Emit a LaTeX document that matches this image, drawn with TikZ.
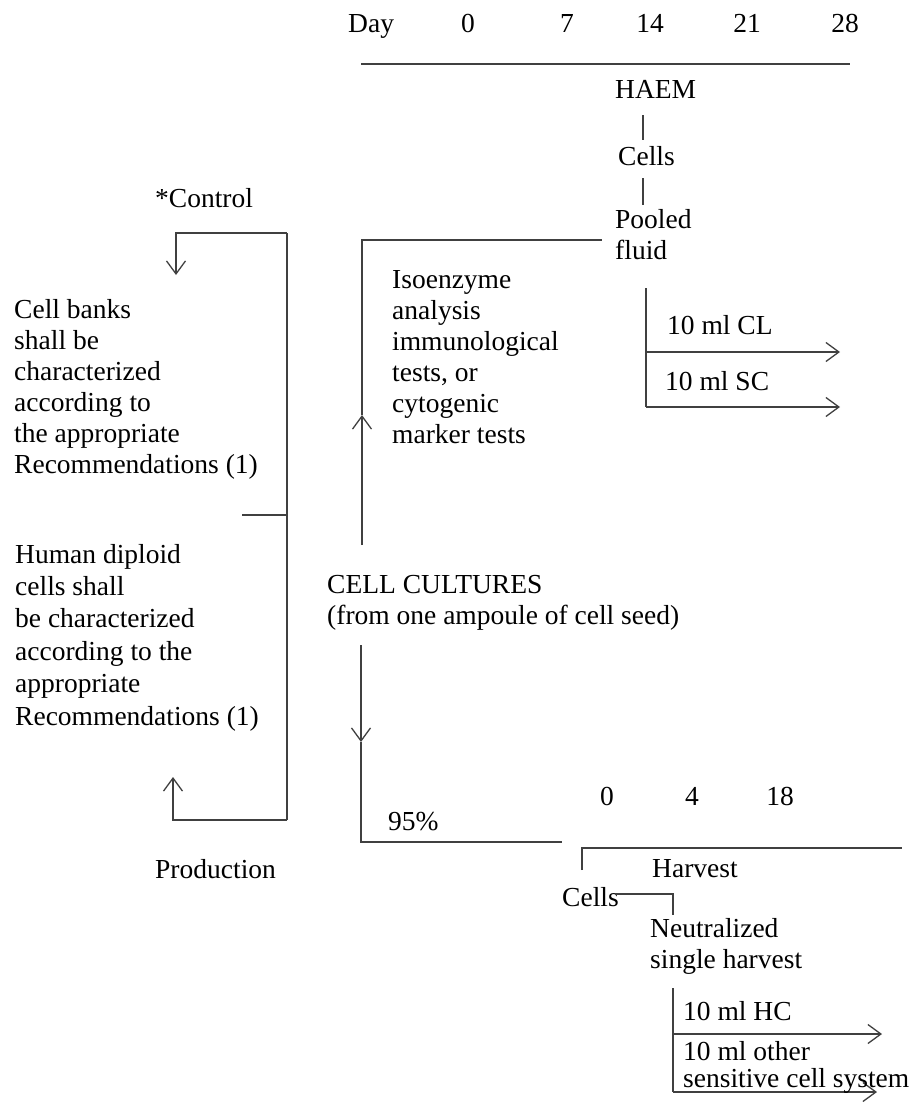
\documentclass[tikz,border=0pt]{standalone}
\usepackage{fontspec}
\setmainfont{Liberation Serif}
\usetikzlibrary{arrows.meta}
\begin{document}
\begin{tikzpicture}[x=1pt,y=-1pt,
  txt/.style={inner sep=0pt, anchor=base west, align=left, font=\fontsize{27.5}{31}\selectfont},
  txtb/.style={txt, font=\fontsize{27.5}{32.4}\selectfont},
  txtc/.style={txt, font=\fontsize{27.5}{27}\selectfont},
  num/.style={inner sep=0pt, anchor=base, font=\fontsize{27.5}{31}\selectfont},
  ln/.style={draw=black!75, line width=1.3pt},
  arr/.style={ln, -{Straight Barb[length=13pt,width=19pt,line width=1.3pt]}}
]
\useasboundingbox (0,0) rectangle (919,1106);
% note: a multi-line node's base anchor lies on its last line

% ---- top time scale ----
\node[txt] (day) at (348,32) {Day};
\node[num] (d0) at (468,32) {0};
\node[num] (d7) at (567,32) {7};
\node[num] (d14) at (650,32) {14};
\node[num] (d21) at (747,32) {21};
\node[num] (d28) at (845,32) {28};
\coordinate (tl1) at (361,64);
\coordinate (tl2) at (850,64);
\draw[ln] (tl1) -- (tl2);

% ---- HAEM column ----
\node[txt] (haem) at (615,98) {HAEM};
\node[txt] (cellsA) at (618,165) {Cells};
\node[txt] (pooled) at (615,259) {Pooled\\fluid};
\coordinate (b1a) at (643,115);
\coordinate (b1b) at (643,140);
\coordinate (b2a) at (643,178);
\coordinate (b2b) at (643,205);
\draw[ln] (b1a) -- (b1b);
\draw[ln] (b2a) -- (b2b);

% ---- pooled fluid tests ----
\coordinate (pv1) at (646,288);
\coordinate (pv2) at (646,407);
\coordinate (pa1) at (646,352);
\coordinate (pa1e) at (840,352);
\coordinate (pa2e) at (840,407);
\draw[ln] (pv1) -- (pv2);
\draw[arr] (pa1) -- (pa1e);
\draw[arr] (pv2) -- (pa2e);
\node[txt] (cl) at (667,334) {10 ml CL};
\node[txt] (sc) at (665,390) {10 ml SC};

% ---- isoenzyme branch ----
\node[txt] (iso) at (392,443) {Isoenzyme\\analysis\\immunological\\tests, or\\cytogenic\\marker tests};
\coordinate (ub1) at (362,545);
\coordinate (ubtip) at (362,415);
\coordinate (ub2) at (362,240);
\coordinate (ub3) at (602,240);
\draw[arr] (ub1) -- (ubtip);
\draw[ln] (ubtip) -- (ub2) -- (ub3);

% ---- left control loop ----
\node[txt] (control) at (155,207) {*Control};
\node[txt] (banks) at (14,473) {Cell banks\\shall be\\characterized\\according to\\the appropriate\\Recommendations (1)};
\node[txtb] (human) at (15,725) {Human diploid\\cells shall\\be characterized\\according to the\\appropriate\\Recommendations (1)};
\node[txt] (prod) at (155,878) {Production};
\coordinate (lc1) at (176,275);
\coordinate (lc2) at (176,233);
\coordinate (lc3) at (287,233);
\coordinate (lc4) at (287,820);
\coordinate (lc5) at (173,820);
\coordinate (lc6) at (173,777);
\coordinate (lm1) at (242,515);
\coordinate (lm2) at (287,515);
\draw[arr] (lc3) -- (lc2) -- (lc1);
\draw[ln] (lc3) -- (lc4);
\draw[arr] (lc4) -- (lc5) -- (lc6);
\draw[ln] (lm1) -- (lm2);

% ---- cell cultures ----
\node[txt] (cc) at (327,624) {CELL CULTURES\\(from one ampoule of cell seed)};
\coordinate (dl1) at (361,645);
\coordinate (dltip) at (361,742);
\coordinate (dl2) at (361,842);
\coordinate (dl3) at (562,842);
\draw[arr] (dl1) -- (dltip);
\draw[ln] (dltip) -- (dl2) -- (dl3);
\node[txt] (pct) at (388,830) {95\%};

% ---- harvest scale ----
\node[num] (h0) at (607,805) {0};
\node[num] (h4) at (692,805) {4};
\node[num] (h18) at (780,805) {18};
\coordinate (hb1) at (582,870);
\coordinate (hb2) at (582,848);
\coordinate (hb3) at (902,848);
\draw[ln] (hb1) -- (hb2) -- (hb3);
\node[txt] (harvest) at (652,877) {Harvest};
\node[txt] (cellsB) at (562,906) {Cells};
\coordinate (cb1) at (615,894);
\coordinate (cb2) at (673,894);
\coordinate (cb3) at (673,915);
\draw[ln] (cb1) -- (cb2) -- (cb3);
\node[txt] (neut) at (650,968) {Neutralized\\single harvest};

% ---- harvest tests ----
\coordinate (nv1) at (673,988);
\coordinate (nv2) at (673,1092);
\coordinate (na1) at (673,1034);
\coordinate (na1e) at (882,1034);
\coordinate (na2e) at (877,1092);
\draw[ln] (nv1) -- (nv2);
\draw[arr] (na1) -- (na1e);
\draw[arr] (nv2) -- (na2e);
\node[txt] (hc) at (683,1020) {10 ml HC};
\node[txtc] (other) at (683,1087) {10 ml other\\sensitive cell system};
\end{tikzpicture}
\end{document}
